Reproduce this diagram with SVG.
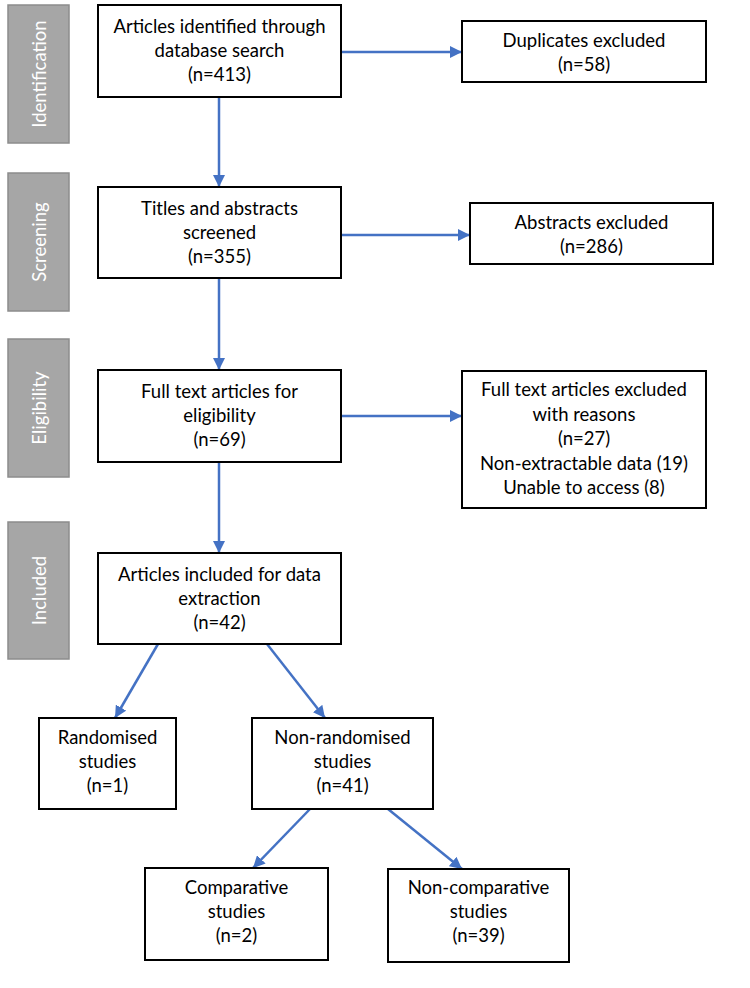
<svg xmlns="http://www.w3.org/2000/svg" width="750" height="988" viewBox="0 0 750 988">
<style>
.box{fill:#fff;stroke:#000;stroke-width:2}
.side{fill:#a6a6a6;stroke:#8c8c8c;stroke-width:1.5}
.t{font-family:Lato,"Open Sans","Liberation Sans",sans-serif;font-size:18.5px;fill:#000;text-anchor:middle}
.st{font-family:Lato,"Open Sans","Liberation Sans",sans-serif;font-size:18.5px;fill:#fff;text-anchor:middle;dominant-baseline:central}
.c{stroke:#4472c4;stroke-width:2.5;fill:none;marker-end:url(#ah)}
</style>
<defs>
<marker id="ah" markerUnits="userSpaceOnUse" markerWidth="12" markerHeight="12" viewBox="0 0 12 12" refX="12" refY="6" orient="auto">
<path d="M0,0 L12,6 L0,12 z" fill="#4472c4"/>
</marker>
</defs>
<rect width="750" height="988" fill="#fff"/>
<g id="phase-identification"><rect class="side" x="8" y="5" width="61" height="138"/><text class="st" transform="translate(38.5,74) rotate(-90)">Identification</text></g>
<g id="phase-screening"><rect class="side" x="8" y="173" width="61" height="138"/><text class="st" transform="translate(38.5,242) rotate(-90)">Screening</text></g>
<g id="phase-eligibility"><rect class="side" x="8" y="339" width="61" height="138"/><text class="st" transform="translate(38.5,408) rotate(-90)">Eligibility</text></g>
<g id="phase-included"><rect class="side" x="8" y="522" width="61" height="137"/><text class="st" transform="translate(38.5,590.5) rotate(-90)">Included</text></g>

<g id="connectors">
<line class="c" x1="219" y1="97" x2="219" y2="187"/>
<line class="c" x1="341" y1="52" x2="462" y2="52"/>
<line class="c" x1="219" y1="278" x2="219" y2="370"/>
<line class="c" x1="341" y1="235" x2="470" y2="235"/>
<line class="c" x1="219" y1="462" x2="219" y2="553"/>
<line class="c" x1="341" y1="416" x2="462" y2="416"/>
<line class="c" x1="158" y1="644" x2="115" y2="718"/>
<line class="c" x1="267" y1="644" x2="325" y2="718"/>
<line class="c" x1="310" y1="809" x2="253" y2="868"/>
<line class="c" x1="388" y1="809" x2="462" y2="869"/>
</g>

<g id="n-identified"><rect class="box" x="98" y="5" width="243" height="92"/>
<text class="t" x="219.5" y="33">Articles identified through</text>
<text class="t" x="219.5" y="57">database search</text>
<text class="t" x="219.5" y="81">(n=413)</text></g>
<g id="n-duplicates"><rect class="box" x="462" y="21" width="244" height="61"/>
<text class="t" x="584" y="47">Duplicates excluded</text>
<text class="t" x="584" y="71">(n=58)</text></g>
<g id="n-screened"><rect class="box" x="98" y="187" width="243" height="91"/>
<text class="t" x="219.5" y="215">Titles and abstracts</text>
<text class="t" x="219.5" y="239">screened</text>
<text class="t" x="219.5" y="263">(n=355)</text></g>
<g id="n-abstracts"><rect class="box" x="470" y="203" width="243" height="61"/>
<text class="t" x="591.5" y="229">Abstracts excluded</text>
<text class="t" x="591.5" y="253">(n=286)</text></g>
<g id="n-fulltext"><rect class="box" x="98" y="370" width="243" height="92"/>
<text class="t" x="219.5" y="398">Full text articles for</text>
<text class="t" x="219.5" y="422">eligibility</text>
<text class="t" x="219.5" y="446">(n=69)</text></g>
<g id="n-fulltext-excluded"><rect class="box" x="462" y="371" width="244" height="137"/>
<text class="t" x="584" y="396">Full text articles excluded</text>
<text class="t" x="584" y="420.5">with reasons</text>
<text class="t" x="584" y="445">(n=27)</text>
<text class="t" x="584" y="469.5">Non-extractable data (19)</text>
<text class="t" x="584" y="494">Unable to access (8)</text></g>
<g id="n-included"><rect class="box" x="98" y="553" width="243" height="91"/>
<text class="t" x="219.5" y="581">Articles included for data</text>
<text class="t" x="219.5" y="605">extraction</text>
<text class="t" x="219.5" y="629">(n=42)</text></g>
<g id="n-randomised"><rect class="box" x="39" y="718" width="137" height="91"/>
<text class="t" x="107.5" y="744">Randomised</text>
<text class="t" x="107.5" y="768">studies</text>
<text class="t" x="107.5" y="792">(n=1)</text></g>
<g id="n-nonrandomised"><rect class="box" x="252" y="718" width="181" height="91"/>
<text class="t" x="342.5" y="744">Non-randomised</text>
<text class="t" x="342.5" y="768">studies</text>
<text class="t" x="342.5" y="792">(n=41)</text></g>
<g id="n-comparative"><rect class="box" x="145" y="868" width="183" height="92"/>
<text class="t" x="236.5" y="894">Comparative</text>
<text class="t" x="236.5" y="918">studies</text>
<text class="t" x="236.5" y="942">(n=2)</text></g>
<g id="n-noncomparative"><rect class="box" x="388" y="869" width="181" height="93"/>
<text class="t" x="478.5" y="894">Non-comparative</text>
<text class="t" x="478.5" y="918">studies</text>
<text class="t" x="478.5" y="942">(n=39)</text></g>
</svg>
